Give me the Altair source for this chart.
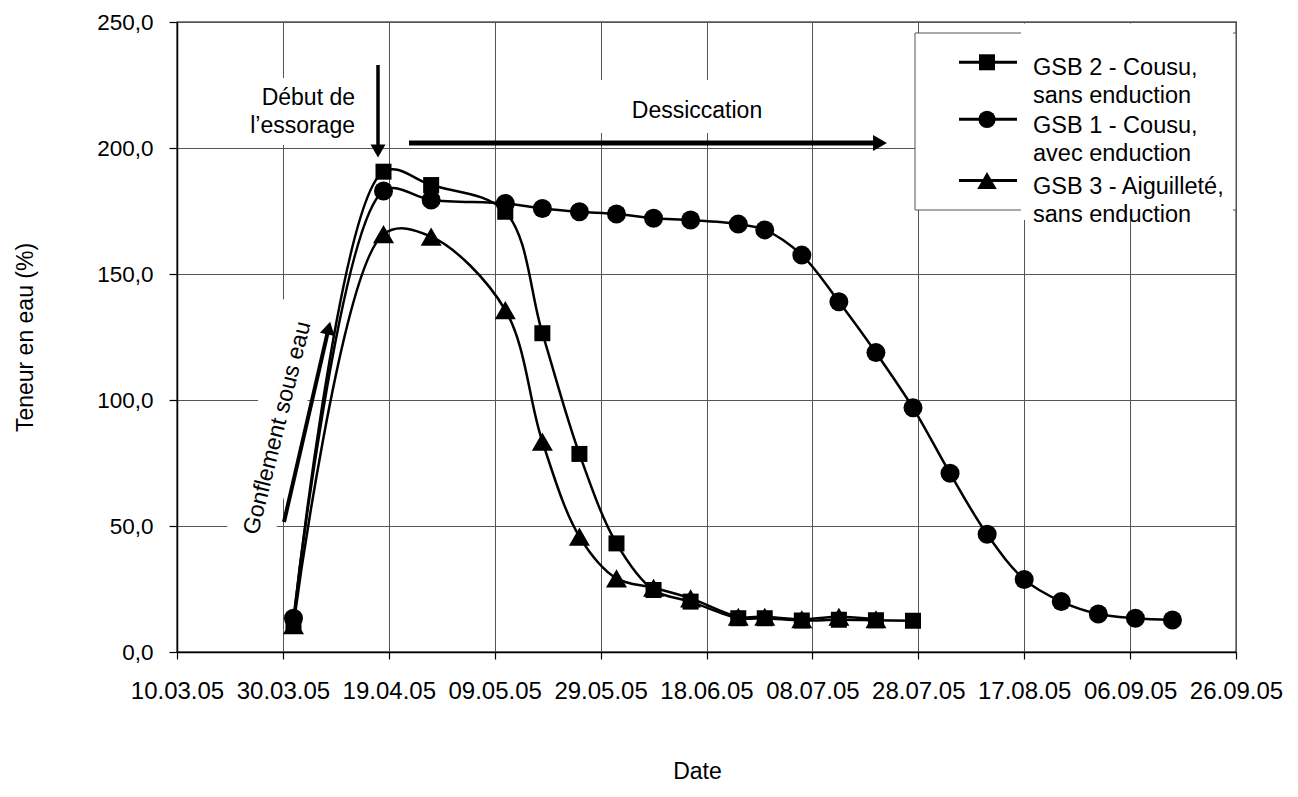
import altair as alt
import pandas as pd

# ---------------- data ----------------
dates = ["01.04.05", "18.04.05", "27.04.05", "11.05.05", "18.05.05", "25.05.05",
         "01.06.05", "08.06.05", "15.06.05", "24.06.05", "29.06.05", "06.07.05",
         "13.07.05", "20.07.05", "27.07.05", "03.08.05", "10.08.05", "17.08.05",
         "24.08.05", "31.08.05", "07.09.05", "14.09.05"]

gsb1 = [13.4, 182.9, 179.4, 178.0, 176.0, 174.7, 173.8, 172.1, 171.4, 169.8, 167.5,
        157.5, 139.0, 118.8, 96.9, 70.9, 46.7, 28.8, 20.0, 15.1, 13.4, 12.7]
gsb2 = [12.0, 190.6, 185.3, 174.7, 126.5, 78.6, 43.1, 24.6, 20.0, 13.4, 13.4,
        12.5, 12.8, 12.6, 12.4]
gsb3 = [10.7, 165.8, 164.8, 135.7, 83.5, 45.8, 29.2, 25.5, 21.3, 14.0, 14.0,
        13.0, 14.0, 13.0]

series_names = ["GSB 2 - Cousu, sans enduction",
                "GSB 1 - Cousu, avec enduction",
                "GSB 3 - Aiguilleté, sans enduction"]
legend_labels = ["GSB 2 - Cousu,\nsans enduction",
                 "GSB 1 - Cousu,\navec enduction",
                 "GSB 3 - Aiguilleté,\nsans enduction"]
series_shapes = ["square", "circle", "triangle-up"]
series_sizes = [256, 361, 441]
legend_sizes = [256, 300, 380]

tick_labels = ["10.03.05", "30.03.05", "19.04.05", "09.05.05", "29.05.05", "18.06.05",
               "08.07.05", "28.07.05", "17.08.05", "06.09.05", "26.09.05"]
y_ticks = [0, 50, 100, 150, 200, 250]

# ---------------- helpers ----------------
base = pd.to_datetime(tick_labels[0], format="%d.%m.%y")


def to_days(lst):
    return [int((pd.to_datetime(s, format="%d.%m.%y") - base).days) for s in lst]


tick_days = to_days(tick_labels)
all_days = to_days(dates)

FONT = "Liberation Sans"
W, H = 1059, 630

label_expr = " : ".join(
    f"datum.value == {d} ? '{t}'" for d, t in zip(tick_days, tick_labels)
) + " : ''"

x_enc = alt.X(
    "day:Q",
    scale=alt.Scale(domain=[tick_days[0], tick_days[-1]], nice=False, zero=False),
    axis=alt.Axis(values=tick_days, labelExpr=label_expr, title="Date",
                  labelFontSize=24, tickSize=7, labelPadding=20, labelFlush=False,
                  labelOverlap=False, titleX=520, titleY=126, titleAngle=0,
                  titleBaseline="alphabetic", titleAlign="center"),
)
y_enc = alt.Y(
    "value:Q",
    scale=alt.Scale(domain=[y_ticks[0], y_ticks[-1]], nice=False),
    axis=alt.Axis(values=y_ticks,
                  labelExpr="replace(format(datum.value, '.1f'), '.', ',')",
                  title="Teneur en eau (%)", labelFontSize=22.5, tickSize=8,
                  labelPadding=16, labelFlush=False, titleX=-152, titleY=315,
                  titleAngle=270, titleBaseline="middle", titleAlign="center"),
)

one = pd.DataFrame({"k": [0]})


def rect(x1, x2, y1, y2, **kw):
    return alt.Chart(one).mark_rect(**kw).encode(
        x=alt.value(x1), x2=alt.value(x2), y=alt.value(y1), y2=alt.value(y2))


def rule(x1, x2, y1, y2, **kw):
    return alt.Chart(one).mark_rule(**kw).encode(
        x=alt.value(x1), x2=alt.value(x2), y=alt.value(y1), y2=alt.value(y2))


def head(x, y, shape, size, angle=0):
    return alt.Chart(one).mark_point(shape=shape, filled=True, color="black",
                                     opacity=1, size=size, angle=angle,
                                     strokeWidth=0).encode(
        x=alt.value(x), y=alt.value(y))


def text(x, y, txt, **kw):
    params = dict(font=FONT, fontSize=23, color="black", lineBreak="\n")
    params.update(kw)
    return alt.Chart(one).mark_text(text=txt, **params).encode(
        x=alt.value(x), y=alt.value(y))


layers = []

# white boxes behind the annotation texts (they hide the grid)
layers.append(rect(58, 185, 56, 123, color="white"))
layers.append(rect(413, 613, 58, 111, color="white"))
layers.append(rule(71, 129, 521, 283, color="white", strokeWidth=48))

# data series
for name, vals, shp, sz in zip(series_names, [gsb2, gsb1, gsb3],
                               series_shapes, series_sizes):
    df = pd.DataFrame({"day": all_days[:len(vals)], "value": vals, "series": name})
    line = alt.Chart(df).mark_line(interpolate="catmull-rom", color="black",
                                   strokeWidth=2.5).encode(x=x_enc, y=y_enc)
    pts = alt.Chart(df).mark_point(shape=shp, size=sz, filled=True, color="black",
                                   opacity=1).encode(x=x_enc, y=y_enc)
    layers += [line, pts]

# annotations
layers.append(text(178, 83, "Début de\nl’essorage", align="right",
                   baseline="alphabetic", lineHeight=28))
layers.append(rule(201, 201, 43, 128, color="black", strokeWidth=3.5))
layers.append(head(201, 129, "triangle-down", 225))

layers.append(text(520, 96, "Dessiccation", align="center", baseline="alphabetic"))
layers.append(rule(232, 703, 121, 121, color="black", strokeWidth=5))
layers.append(head(703, 121, "triangle-right", 256))

layers.append(rule(107, 151.7, 500, 306, color="black", strokeWidth=4))
layers.append(head(151.7, 306, "triangle-up", 225, angle=13))
layers.append(text(100.4, 406, "Gonflement sous eau", align="center",
                   baseline="middle", angle=284))

# legend
layers.append(rect(738, 1059, 11, 188, color="white", stroke="#555", strokeWidth=1))
layers.append(rect(844, 1056, 1.5, 198, color="white"))
row_y = [40.3, 97.3, 158.5]
text_y = [46, 103.5, 165]
for lab, shp, sz, ry, ty in zip(legend_labels, series_shapes, legend_sizes, row_y, text_y):
    layers.append(rule(782, 840, ry, ry, color="black", strokeWidth=3))
    layers.append(head(810, ry, shp, sz))
    layers.append(text(856, ty, lab, align="left", baseline="middle",
                       lineHeight=28, fontSize=23.5))

chart = alt.layer(*layers).properties(
    width=W, height=H,
    autosize=alt.AutoSizeParams(type="none"),
    padding={"left": 169, "top": 14, "right": 50, "bottom": 137},
    background="white",
).configure_view(
    stroke="black", strokeWidth=1.3
).configure_axis(
    labelFont=FONT, titleFont=FONT, labelColor="black", titleColor="black",
    titleFontSize=23, titleFontWeight="normal", domainColor="black",
    domainWidth=1.5, tickColor="black", tickWidth=1.2, gridColor="#555",
    gridWidth=1, gridOpacity=1,
)

chart.save("out.html", embed_options={"renderer": "svg", "actions": False})
